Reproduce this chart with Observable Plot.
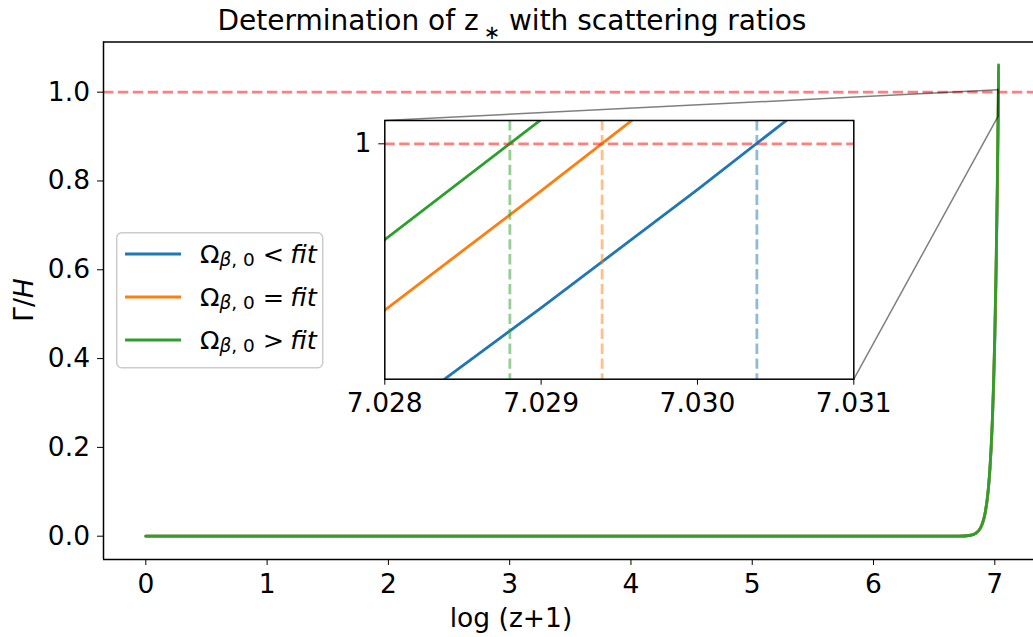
<!DOCTYPE html>
<html><head><meta charset="utf-8">
<script src="https://cdn.jsdelivr.net/npm/d3@7"></script>
<script src="https://cdn.jsdelivr.net/npm/@observablehq/plot@0.6"></script>
<style>
html,body{margin:0;padding:0;background:#fff;}
#wrap{position:relative;width:1033px;height:637px;overflow:hidden;font-family:"DejaVu Sans";}
#wrap svg{position:absolute;left:0;top:0;}
</style></head><body><div id="wrap"></div>
<script>
// ---- data ----
const seriesRelations = ["<", "=", ">"];
const seriesColors = ["#1f77b4", "#ff7f0e", "#2ca02c"];
const logz = [0, 1, 2, 3, 4, 5, 6, 6.5, 6.7, 6.8, 6.85, 6.88, 6.9, 6.92, 6.94, 6.95, 6.96, 6.97, 6.98, 6.99, 7.0, 7.01, 7.02, 7.025, 7.028, 7.029, 7.03, 7.031];
const ratioBelowFit = [0, 0, 0, 0, 0, 0, 0, 0, 0.0001, 0.002, 0.0077, 0.0172, 0.0297, 0.0508, 0.0872, 0.114, 0.1494, 0.1954, 0.2558, 0.3353, 0.4397, 0.5767, 0.7549, 0.8648, 0.9377, 0.9634, 0.9898, 1.0169];
const ratioAtFit    = [0, 0, 0, 0, 0, 0, 0, 0, 0.0001, 0.0021, 0.0079, 0.0177, 0.0305, 0.0522, 0.0895, 0.117, 0.1535, 0.2007, 0.2627, 0.3444, 0.4517, 0.5924, 0.7754, 0.8886, 0.9629, 0.9895, 1.0166, 1.0445];
const ratioAboveFit = [0, 0, 0, 0, 0, 0, 0, 0, 0.0001, 0.0021, 0.008, 0.018, 0.031, 0.053, 0.091, 0.119, 0.156, 0.204, 0.267, 0.35, 0.459, 0.602, 0.788, 0.903, 0.9786, 1.0054, 1.0329, 1.0612];
const crossings = [7.03038, 7.02939, 7.0288];
const threshold = 1;
const mainXTicks = [0, 1, 2, 3, 4, 5, 6, 7];
const mainYTicks = [0, 0.2, 0.4, 0.6, 0.8, 1.0];
const insetXTicks = [7.028, 7.029, 7.030, 7.031];
const insetYTicks = [1];
const insetXDomain = [7.028, 7.031];
const insetYDomain = [0.9475, 1.0052];

// ---- layout ----
const W = 1033, H = 637;
const FONT = "DejaVu Sans";
const FS = 26.5;
const SUB = 18.5;
const main = {left: 103, right: 0, top: 41.5, bottom: 78};
const xDomain = [-0.349, 7.319];
const yDomain = [-0.0525, 1.113];
const inset = {left: 384.3, right: W - 853.3, top: 120, bottom: H - 378.7};
const LW = 2.8;
const DASH = "10.4,4.5";

const allSeries = [ratioBelowFit, ratioAtFit, ratioAboveFit];
const rows = allSeries.map((ys, i) => logz.map((x, j) => ({x, y: ys[j], s: i})));

const mx = d3.scaleLinear(xDomain, [main.left, W - main.right]);
const my = d3.scaleLinear(yDomain, [H - main.bottom, main.top]);
const connectors = [
  {x1: mx.invert(inset.left), y1: my.invert(inset.top), x2: insetXDomain[0], y2: insetYDomain[1]},
  {x1: mx.invert(W - inset.right), y1: my.invert(H - inset.bottom), x2: insetXDomain[1], y2: insetYDomain[0]}
];

const wrap = document.getElementById("wrap");

const mainPlot = Plot.plot({
  width: W, height: H,
  marginLeft: main.left, marginRight: main.right, marginTop: main.top, marginBottom: main.bottom,
  style: {fontFamily: FONT, fontSize: FS + "px", color: "black", background: "white", overflow: "visible"},
  x: {domain: xDomain, ticks: mainXTicks, tickSize: 6, tickPadding: 8.2, tickFormat: d => String(d), label: null},
  y: {domain: yDomain, ticks: mainYTicks, tickSize: 6, tickPadding: 7.5, tickFormat: d3.format(".1f"), label: null},
  marks: [
    ...rows.map((r, i) => Plot.line(r, {x: "x", y: "y", stroke: seriesColors[i], strokeWidth: LW, curve: "monotone-x"})),
    Plot.ruleY([threshold], {stroke: "red", strokeOpacity: 0.5, strokeWidth: LW, strokeDasharray: DASH}),
    Plot.rect([0], {x1: () => insetXDomain[0], x2: () => insetXDomain[1], y1: () => insetYDomain[0], y2: () => insetYDomain[1], fill: "none", stroke: "black", strokeOpacity: 0.5, strokeWidth: 1.5}),
    Plot.link(connectors, {x1: "x1", y1: "y1", x2: "x2", y2: "y2", stroke: "black", strokeOpacity: 0.5, strokeWidth: 1.5}),
    Plot.ruleX([xDomain[0]], {stroke: "black", strokeWidth: 1.5}),
    Plot.ruleY([yDomain[0], yDomain[1]], {stroke: "black", strokeWidth: 1.5})
  ]
});
wrap.appendChild(mainPlot);

const insetPlot = Plot.plot({
  width: W, height: H,
  marginLeft: inset.left, marginRight: inset.right, marginTop: inset.top, marginBottom: inset.bottom,
  style: {fontFamily: FONT, fontSize: FS + "px", color: "black", background: "none", overflow: "visible"},
  x: {domain: insetXDomain, ticks: insetXTicks, tickSize: 6, tickPadding: 8.2, tickFormat: d3.format(".3f"), label: null},
  y: {domain: insetYDomain, ticks: insetYTicks, tickSize: 6, tickPadding: 7.5, tickFormat: d => String(d), label: null},
  marks: [
    Plot.frame({fill: "white", stroke: "none"}),
    ...rows.map((r, i) => Plot.line(r, {x: "x", y: "y", stroke: seriesColors[i], strokeWidth: LW, clip: true})),
    Plot.ruleY([threshold], {stroke: "red", strokeOpacity: 0.5, strokeWidth: LW, strokeDasharray: DASH}),
    Plot.ruleX(crossings, {x: d => d, stroke: (d, i) => seriesColors[i], strokeOpacity: 0.5, strokeWidth: LW, strokeDasharray: DASH}),
    Plot.frame({stroke: "black", strokeWidth: 1.5})
  ]
});
insetPlot.style.pointerEvents = "none";
wrap.appendChild(insetPlot);

// ---- title, axis labels, legend ----
const over = d3.select(wrap).append("svg").attr("width", W).attr("height", H)
  .style("font-family", FONT).style("pointer-events", "none");

const title = over.append("text").attr("x", 512).attr("y", 30).attr("text-anchor", "middle").attr("font-size", 28);
title.append("tspan").text("Determination of z");
title.append("tspan").attr("dx", 5).attr("dy", 9).attr("font-size", 19.6).text("∗");
title.append("tspan").attr("dy", -9).text(" with scattering ratios");

over.append("text").attr("x", 511).attr("y", 627).attr("text-anchor", "middle").attr("font-size", FS).text("log (z+1)");

const yl = over.append("text").attr("transform", "translate(33,300) rotate(-90)").attr("text-anchor", "middle").attr("font-size", FS);
yl.append("tspan").text("Γ/");
yl.append("tspan").attr("font-style", "italic").text("H");

const lg = over.append("g");
lg.append("rect").attr("x", 116.7).attr("y", 232.7).attr("width", 206).attr("height", 135).attr("rx", 5)
  .attr("fill", "white").attr("fill-opacity", 0.8).attr("stroke", "#cccccc").attr("stroke-width", 1.5);
seriesRelations.forEach((rel, i) => {
  const cy = 254 + i * 43;
  lg.append("line").attr("x1", 125).attr("x2", 181).attr("y1", cy).attr("y2", cy)
    .attr("stroke", seriesColors[i]).attr("stroke-width", LW);
  const t = lg.append("text").attr("x", 200).attr("y", cy + 9).attr("font-size", FS - 1);
  t.append("tspan").text("Ω");
  t.append("tspan").attr("dy", 3).attr("font-size", SUB).attr("font-style", "italic").text("β");
  t.append("tspan").attr("font-size", SUB).text(", 0");
  t.append("tspan").attr("dy", -3).attr("dx", 8).text(rel);
  t.append("tspan").attr("dx", 6).attr("font-style", "italic").text("fit");
});
</script></body></html>
